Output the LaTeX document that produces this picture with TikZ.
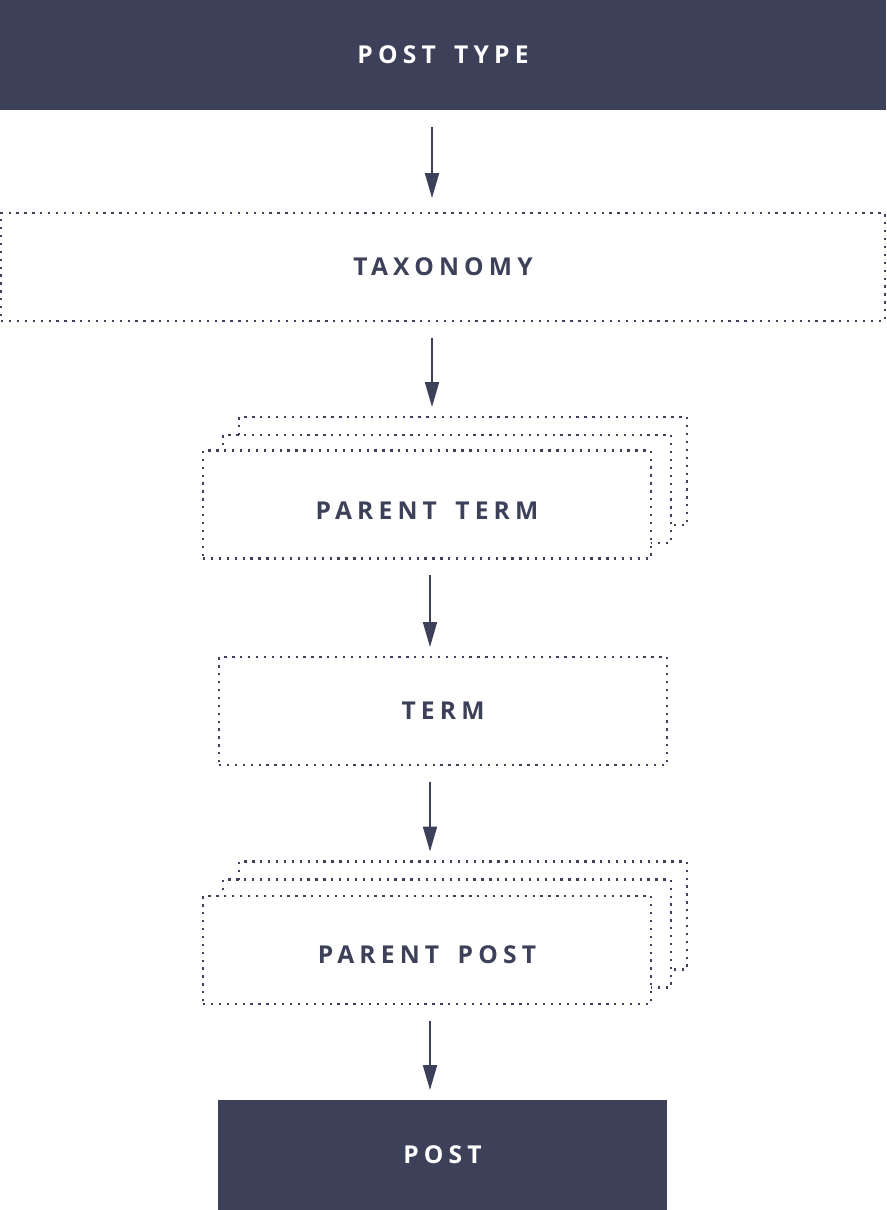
\documentclass[tikz,border=0pt]{standalone}
\usepackage{fontspec}
\usepackage{xcolor}
\usetikzlibrary{arrows.meta,positioning}
\newfontfamily\boxfont[LetterSpace=21,WordSpace=1.6]{Open Sans}
\definecolor{navy}{HTML}{3C4059}

\begin{document}
\begin{tikzpicture}[
    x=0.02cm,
    y=-0.02cm,
    font=\boxfont\bfseries\fontsize{14}{16}\selectfont,
    >={Triangle[length=0.5cm,width=0.28cm]},
    solidbox/.style={
        fill=navy,
        text=white,
        inner sep=0pt,
        outer sep=0pt,
        minimum height=2.2cm
    },
    dotbox/.style={
        draw=navy,
        fill=white,
        text=navy,
        line width=1.3pt,
        dash pattern=on 1.3pt off 3.2pt,
        inner sep=0pt,
        outer sep=0pt,
        minimum width=8.96cm,
        minimum height=2.16cm
    },
    flow/.style={
        ->,
        draw=navy,
        line width=1.1pt,
        shorten <=0.34cm,
        shorten >=0.2cm
    }
]
\useasboundingbox (0,0) rectangle (886,1210);

% Top and bottom
\node[solidbox, minimum width=17.72cm] (ptype) at (443,55) {POST TYPE};
\node[solidbox, minimum width=8.98cm] (post) at (442.5,1155) {POST};

% Taxonomy
\node[dotbox, minimum width=17.68cm] (tax) at (443,267) {TAXONOMY};

% Parent term stack
\node[dotbox] (ptermC) at (463,471) {};
\node[dotbox] (ptermB) at (447,489) {};
\node[dotbox, text height=0.6cm, text depth=0pt] (pterm) at (427,504.5) {PARENT TERM};

% Term
\node[dotbox] (term) at (443,711) {TERM};

% Parent post stack
\node[dotbox] (ppostC) at (463,915.5) {};
\node[dotbox] (ppostB) at (447,933.5) {};
\node[dotbox, text height=0.52cm, text depth=0pt] (ppost) at (427,950) {PARENT POST};

% Arrows
\draw[flow, shorten >=0.3cm]
    ([xshift=-0.22cm]ptype.south)
    --
    ([xshift=-0.22cm]tax.north);

\draw[flow]
    ([xshift=-0.22cm]tax.south)
    --
    ([xshift=-0.22cm]tax.south |- ptermC.north);

\draw[flow]
    ([xshift=0.06cm]pterm.south)
    --
    ([xshift=0.06cm]pterm.south |- term.north);

\draw[flow]
    ([xshift=0.06cm]pterm.south |- term.south)
    --
    ([xshift=0.06cm]pterm.south |- ppostC.north);

\draw[flow]
    ([xshift=0.06cm]ppost.south)
    --
    ([xshift=0.06cm]ppost.south |- post.north);

\end{tikzpicture}
\end{document}
